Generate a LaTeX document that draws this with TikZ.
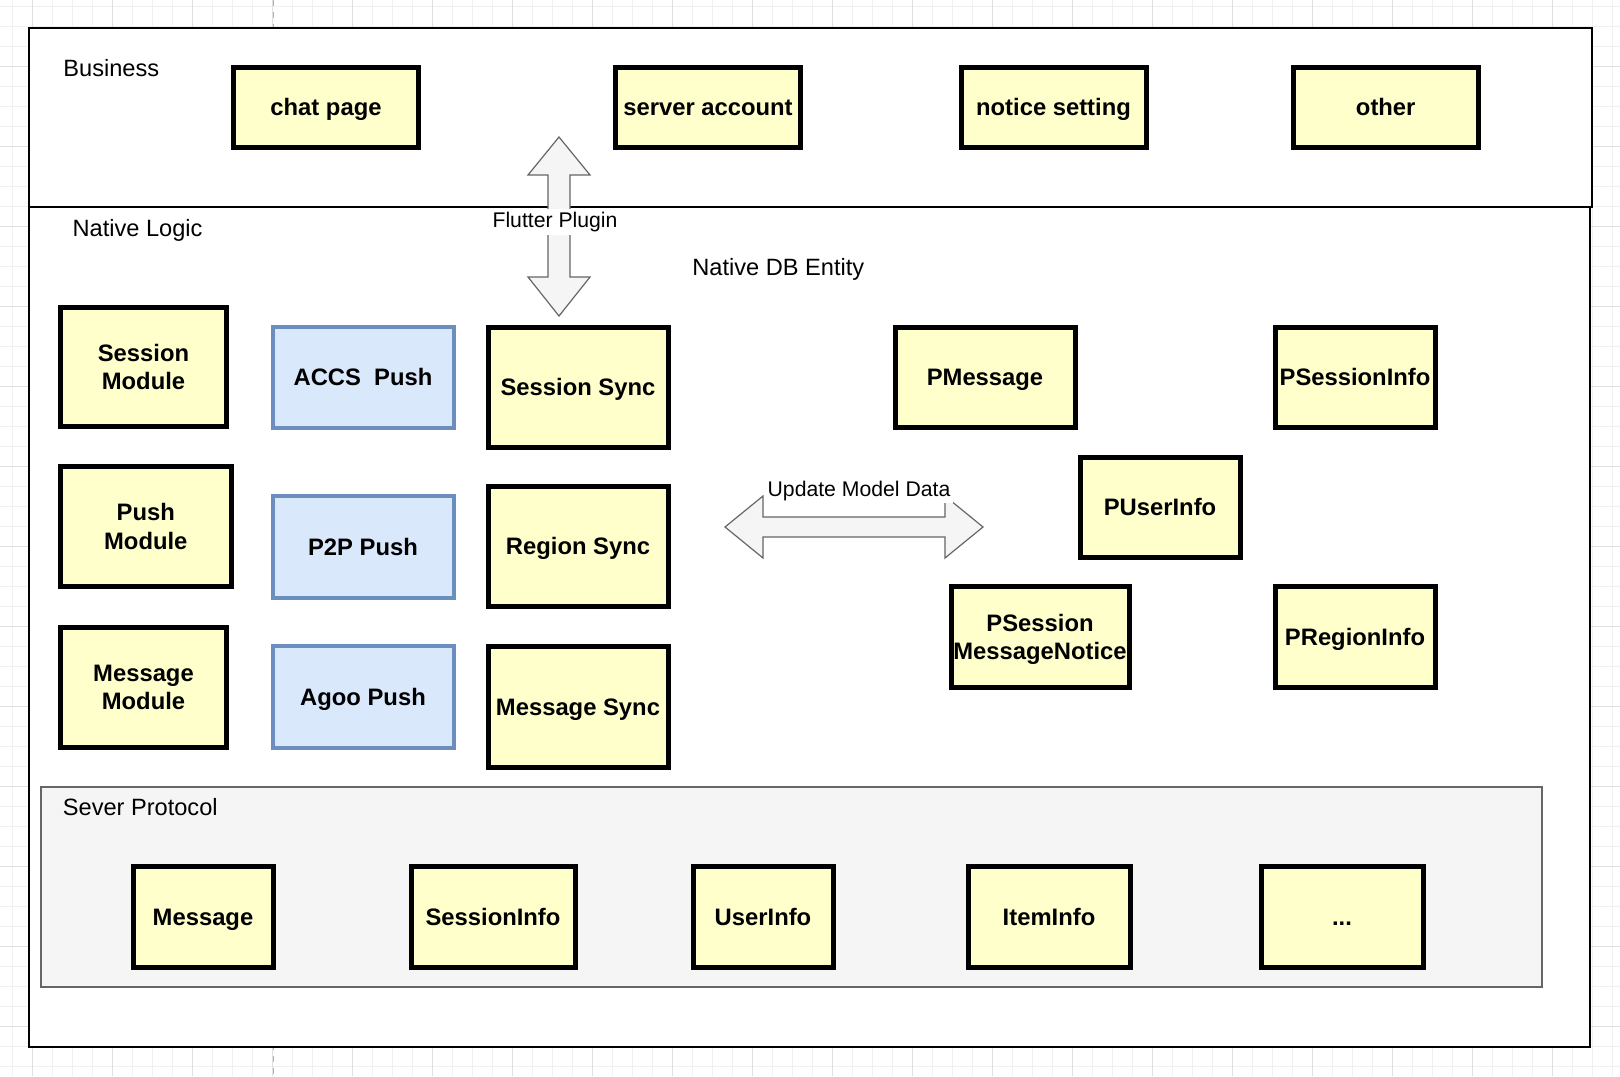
\documentclass[tikz,border=0pt]{standalone}
\usepackage{fontspec}
\setmainfont{Liberation Sans}
\definecolor{yfill}{HTML}{FFFFCC}
\definecolor{bfill}{HTML}{DAE8FC}
\definecolor{bstroke}{HTML}{6C8EBF}
\definecolor{gfill}{HTML}{F5F5F5}
\definecolor{gstroke}{HTML}{666666}
\definecolor{gridminor}{HTML}{F0F0F0}
\definecolor{gridmajor}{HTML}{E0E0E0}
\newcommand\lnst{\rule[-0.2em]{0pt}{1.1em}}
\begin{document}
\begin{tikzpicture}[x=0.5pt,y=-0.5pt,
  sz/.style 2 args={minimum width={(#1)*0.5pt},minimum height={(#2)*0.5pt}},
  ybox/.style={draw=black,line width=2.5pt,fill=yfill,inner sep=0pt,align=center,
    font=\bfseries\fontsize{11.9}{14.2}\selectfont},
  bbox/.style={draw=bstroke,line width=2pt,fill=bfill,inner sep=0pt,align=center,
    font=\bfseries\fontsize{11.9}{14.2}\selectfont},
  lbl/.style={inner sep=0pt,font=\fontsize{11.8}{14}\selectfont},
  elbl/.style={inner sep=1.5pt,fill=white,font=\fontsize{10.6}{12.5}\selectfont},
  blockarrow/.style={draw=gstroke,fill=gfill,line width=0.6pt,line join=miter},
  frame/.style={draw=black,line width=1.1pt,fill=white},
  minorline/.style={draw=gridminor,line width=0.5pt},
  majorline/.style={draw=gridmajor,line width=0.5pt}]
\useasboundingbox (0,0) rectangle (1620,1076);
\fill[white] (0,0) rectangle (1620,1076);
% background grid
\foreach \i in {0,...,81} {\draw[minorline] ({12.7+20*\i},0) -- ({12.7+20*\i},1076);}
\foreach \i in {0,...,54} {\draw[minorline] (0,{6+20*\i}) -- (1620,{6+20*\i});}
\foreach \i in {0,...,20} {\draw[majorline] ({32.7+80*\i},0) -- ({32.7+80*\i},1076);}
\foreach \i in {0,...,13} {\draw[majorline] (0,{66+80*\i}) -- (1620,{66+80*\i});}
\draw[draw=gray!60,dashed,line width=0.5pt] (273,0) -- (273,1076);
% layers
\draw[frame] (29,207) rectangle (1590,1047);
\draw[frame] (29,28) rectangle (1592,207);
\draw[draw=gstroke,fill=gfill,line width=1pt] (41.3,786.5) rectangle (1542.4,987.2);
% layer labels
\node[lbl,anchor=base west] (lbusiness) at (63,76) {Business};
\node[lbl,anchor=base west] (lnative) at (72.3,236) {Native Logic};
\node[lbl,anchor=base west] (ldb) at (692,275.5) {Native DB Entity};
\node[lbl,anchor=base west] (lsever) at (62.5,815.6) {Sever Protocol};
% business
\node[ybox,sz={185}{80}] (chat) at (326,107.5) {\lnst chat page};
\node[ybox,sz={185}{80}] (server) at (708,107.5) {\lnst server account};
\node[ybox,sz={185}{80}] (notice) at (1053.5,107.5) {\lnst notice setting};
\node[ybox,sz={185}{80}] (other) at (1385.7,107.5) {\lnst other};
% native logic
\node[ybox,sz={166}{119}] (sessmod) at (143.5,367) {\lnst Session\\\lnst Module};
\node[ybox,sz={170.5}{120}] (pushmod) at (145.8,526.7) {\lnst Push\\\lnst Module};
\node[ybox,sz={166}{120}] (msgmod) at (143.5,687) {\lnst Message\\\lnst Module};
\node[bbox,sz={181}{101}] (accs) at (363,377) {\lnst ACCS~~Push};
\node[bbox,sz={181}{101.5}] (p2p) at (363,546.8) {\lnst P2P Push};
\node[bbox,sz={181}{101.3}] (agoo) at (363,697) {\lnst Agoo Push};
\node[ybox,sz={180}{120}] (sesssync) at (578,387) {\lnst Session Sync};
\node[ybox,sz={180}{120.6}] (regsync) at (578,546.6) {\lnst Region Sync};
\node[ybox,sz={180}{120.4}] (msgsync) at (578,707) {\lnst Message Sync};
% entities
\node[ybox,sz={180}{100}] (pmsg) at (985,377) {\lnst PMessage};
\node[ybox,sz={160}{100}] (psess) at (1355,377) {\lnst PSessionInfo};
\node[ybox,sz={160}{100.3}] (puser) at (1160,507.2) {\lnst PUserInfo};
\node[ybox,sz={178}{100.3}] (pnotice) at (1040,637) {\lnst PSession\\\lnst MessageNotice};
\node[ybox,sz={160}{100.3}] (pregion) at (1355,637) {\lnst PRegionInfo};
% protocol
\node[ybox,sz={140}{100.3}] (message) at (203,917) {\lnst Message};
\node[ybox,sz={164}{100.3}] (sessinfo) at (493,917) {\lnst SessionInfo};
\node[ybox,sz={140}{100.3}] (userinfo) at (763,917) {\lnst UserInfo};
\node[ybox,sz={162}{100.3}] (iteminfo) at (1049,917) {\lnst ItemInfo};
\node[ybox,sz={162}{100.3}] (dots) at (1342,917) {\lnst ...};
% Flutter Plugin block arrow
\draw[blockarrow] (559,137) -- (590,175) -- (570,175) -- (570,277) -- (590,277) -- (559,316)
  -- (528,277) -- (548,277) -- (548,175) -- (528,175) -- cycle;
\node[elbl,anchor=base] (lflutter) at (555,227.3) {Flutter Plugin};
% Update Model Data block arrow
\draw[blockarrow] (725,527) -- (763,496) -- (763,517) -- (945,517) -- (945,496) -- (983,527)
  -- (945,558) -- (945,537) -- (763,537) -- (763,558) -- cycle;
\node[elbl,anchor=base] (lupdate) at (859,496) {Update Model Data};
\end{tikzpicture}
\end{document}
